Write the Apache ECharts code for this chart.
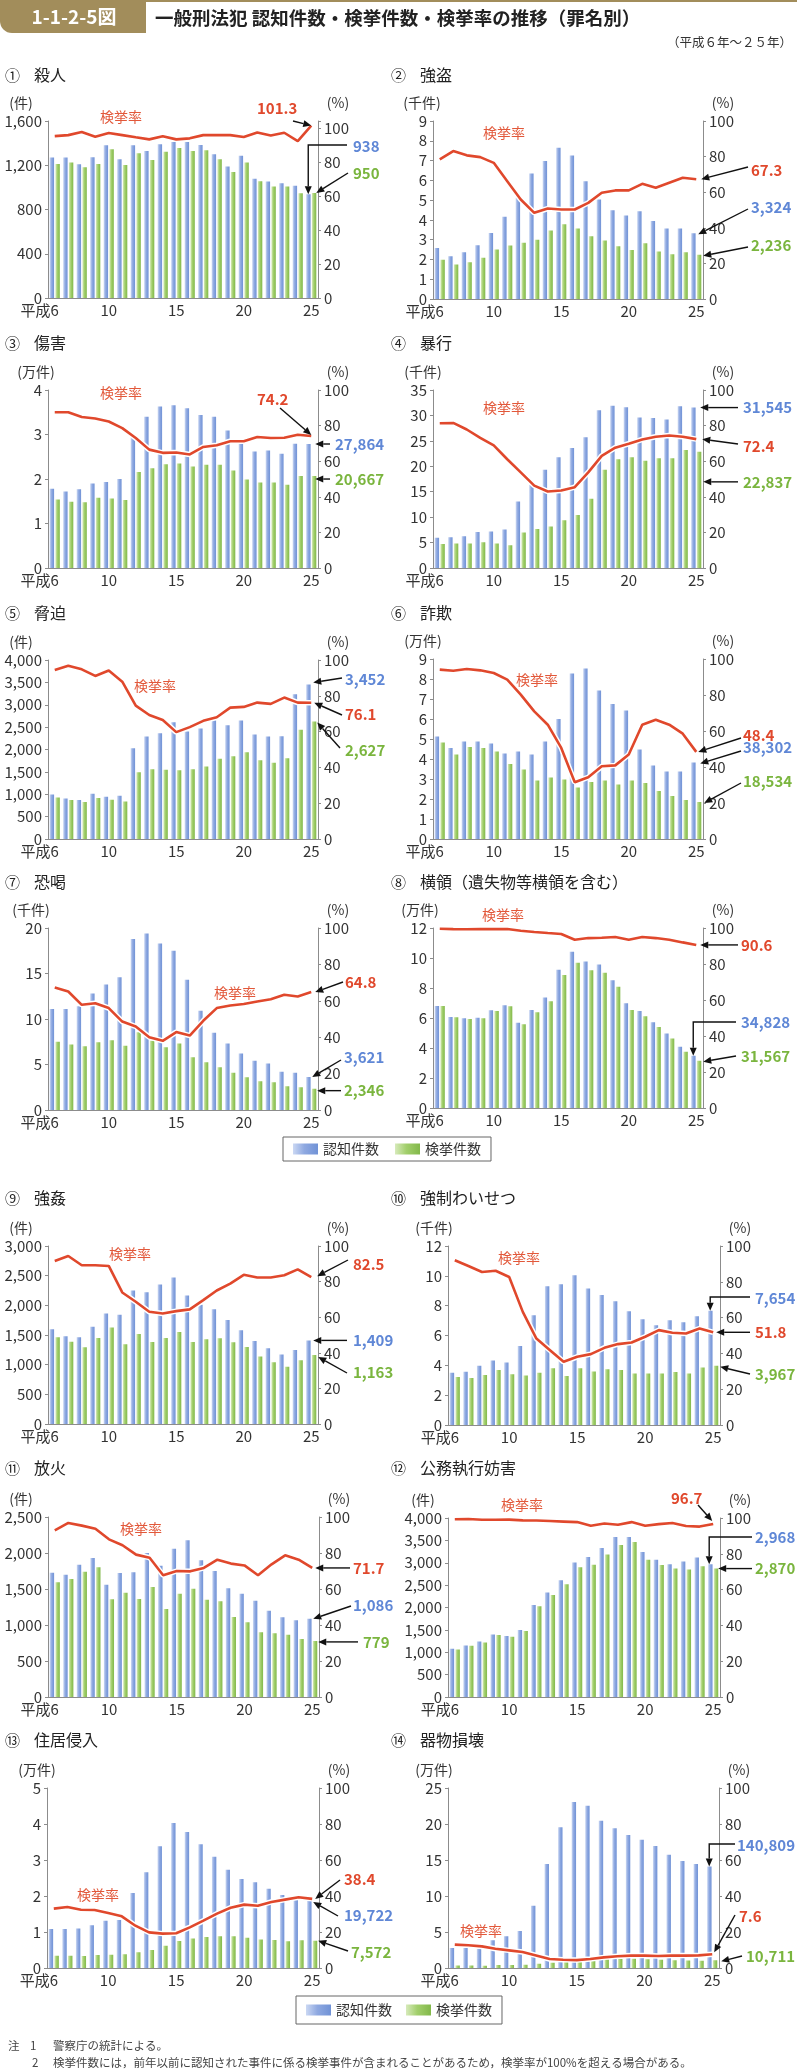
<!DOCTYPE html>
<html><head><meta charset="utf-8">
<script src="https://cdn.jsdelivr.net/npm/echarts@6/dist/echarts.min.js"></script>
<style>html,body{margin:0;padding:0;background:#fff}#c{width:797px;height:2070px}</style>
</head><body><div id="c"></div>
<script>
// ---------- data ----------
const categories = ['平成6','7','8','9','10','11','12','13','14','15','16','17','18','19','20','21','22','23','24','25'];
const xLabelShown = ['平成6','10','15','20','25'];

const panelNos = ['①','②','③','④','⑤','⑥','⑦','⑧','⑨','⑩','⑪','⑫','⑬','⑭'];
const panelNames = ['殺人','強盗','傷害','暴行','脅迫','詐欺','恐喝','横領（遺失物等横領を含む）','強姦','強制わいせつ','放火','公務執行妨害','住居侵入','器物損壊'];
const units = ['(件)','(千件)','(万件)','(千件)','(件)','(万件)','(千件)','(万件)','(件)','(千件)','(件)','(件)','(万件)','(万件)'];
const unitMul = [1,1000,10000,1000,1,10000,1000,10000,1,1000,1,1,10000,10000];
const leftMax = [1600,9,4,35,4000,9,20,12,3000,12,2500,4000,5,25];
const leftInterval = [400,1,1,5,500,1,5,2,500,2,500,500,1,5];
const rightMax = [104,100,100,100,100,100,100,100,100,100,100,100,100,100];

const rec1 = [1269,1269,1209,1272,1380,1254,1380,1329,1389,1410,1410,1383,1299,1188,1287,1077,1053,1038,1014,938];
const clr1 = [1212,1224,1182,1212,1344,1203,1308,1248,1323,1356,1329,1335,1254,1140,1224,1056,1008,1008,947,950];
const rate1 = [95.1,95.7,97.5,94.8,96.9,95.7,94.4,93.2,95.0,93.2,93.8,95.7,95.7,95.7,94.6,97.3,95.5,97.1,92.2,101.3];

const rec2 = [2.58,2.16,2.36,2.72,3.34,4.16,5.12,6.35,6.98,7.65,7.26,5.95,5.03,4.49,4.22,4.44,3.94,3.56,3.56,3.324];
const clr2 = [1.99,1.74,1.86,2.09,2.50,2.70,2.84,3.00,3.46,3.78,3.56,3.17,2.96,2.67,2.48,2.82,2.40,2.26,2.36,2.236];
const rate2 = [78.4,83.1,80.7,79.7,76.5,66.2,55.9,48.4,50.8,50.3,50.3,54.0,59.7,61.0,61.0,64.7,62.5,65.3,68.1,67.3];

const rec3 = [1.78,1.72,1.77,1.90,1.93,2.00,3.00,3.40,3.63,3.66,3.59,3.44,3.40,3.09,2.79,2.62,2.64,2.57,2.79,2.7864];
const clr3 = [1.54,1.49,1.48,1.58,1.56,1.53,2.16,2.24,2.33,2.35,2.28,2.32,2.32,2.19,1.99,1.92,1.92,1.87,2.07,2.0667];
const rate3 = [87.5,87.5,84.8,84.0,82.3,78.6,73.0,66.5,64.7,64.9,63.8,68.0,69.0,71.2,71.2,73.6,73.0,73.2,74.9,74.2];

const rec4 = [5.96,6.03,6.22,7.06,7.19,7.58,13.1,16.3,19.3,21.8,23.6,25.7,31.0,31.9,31.6,29.6,29.5,29.2,31.8,31.545];
const clr4 = [4.73,4.80,4.80,5.06,4.80,4.47,7.00,7.65,8.17,9.40,10.4,13.6,19.3,21.4,21.8,21.1,21.6,21.6,23.2,22.837];
const rate4 = [81.3,81.5,77.8,73.1,68.9,61.1,53.7,46.3,43.0,43.5,45.4,53.7,63.0,67.6,69.8,72.2,73.7,74.4,73.7,72.4];

const rec5 = [996,907,870,1011,944,967,2030,2290,2364,2610,2401,2468,2654,2543,2647,2335,2290,2297,3234,3452];
const clr5 = [929,870,825,914,877,840,1494,1561,1546,1539,1561,1621,1792,1851,1941,1762,1703,1807,2439,2627];
const rate5 = [94.4,96.8,94.8,91.1,94.1,87.9,74.5,69.3,66.5,59.7,62.5,66.0,68.0,73.4,73.8,76.2,75.5,79.0,76.2,76.1];

const rec6 = [5.13,4.55,4.88,4.88,4.77,4.27,4.37,4.23,4.88,6.00,8.27,8.53,7.43,6.75,6.42,4.47,3.68,3.38,3.38,3.8302];
const clr6 = [4.83,4.23,4.60,4.55,4.37,3.75,3.47,2.93,3.08,2.97,2.58,2.85,2.93,2.73,2.93,2.80,2.40,2.15,1.95,1.8534];
const rate6 = [94.1,93.5,94.4,93.7,92.2,88.5,80.2,70.9,63.5,50.6,31.5,34.3,40.4,40.9,46.9,63.5,66.3,63.5,58.5,48.4];

const rec7 = [11.1,11.1,11.4,12.8,13.8,14.6,18.8,19.4,18.3,17.5,14.3,10.9,8.5,7.3,6.2,5.4,5.1,4.2,4.1,3.621];
const clr7 = [7.50,7.20,7.00,7.45,7.67,7.05,8.55,7.60,6.90,7.30,5.80,5.25,4.70,4.10,3.60,3.16,3.05,2.60,2.50,2.346];
const rate7 = [67.3,65.1,57.8,58.7,56.0,48.6,45.9,40.0,38.0,42.8,40.9,49.0,56.0,57.4,58.2,59.6,60.9,63.3,62.4,64.8];

const rec8 = [6.80,6.07,5.98,6.02,6.51,6.85,5.69,6.54,7.36,9.21,10.42,9.77,9.57,8.52,6.98,6.47,5.71,4.97,4.08,3.4828];
const clr8 = [6.80,6.05,5.93,5.98,6.47,6.78,5.58,6.38,7.12,8.86,9.68,9.19,9.01,8.08,6.54,6.11,5.40,4.64,3.75,3.1567];
const rate8 = [99.6,99.4,99.3,99.4,99.4,99.4,98.5,97.8,97.2,96.7,93.5,94.4,94.6,95.0,93.5,95.0,94.4,93.5,92.0,90.6];

const rec9 = [1595,1477,1461,1640,1864,1841,2250,2222,2350,2468,2166,2009,1936,1752,1578,1399,1276,1170,1248,1409];
const clr9 = [1461,1388,1293,1449,1628,1343,1517,1382,1449,1550,1382,1427,1444,1377,1298,1136,1041,963,1074,1163];
const rate9 = [91.6,94.4,89.2,89.2,88.8,73.9,68.7,63.1,62.1,63.4,64.4,69.6,75.0,78.9,83.8,82.3,82.3,83.6,86.9,82.5];

const rec10 = [3.50,3.57,3.97,4.33,4.19,5.29,7.36,9.30,9.44,10.04,9.15,8.72,8.30,7.63,7.09,6.69,7.03,6.89,7.29,7.654];
const clr10 = [3.21,3.15,3.35,3.68,3.41,3.32,3.50,3.81,3.28,3.81,3.59,3.73,3.68,3.46,3.46,3.46,3.55,3.46,3.86,3.967];
const rate10 = [92.0,88.8,85.5,86.2,82.7,63.2,48.3,41.8,35.3,38.1,39.6,43.1,45.2,46.1,49.3,53.0,51.5,51.1,53.9,51.8];

const rec11 = [1727,1699,1838,1931,1560,1722,1731,2000,1824,2060,2176,1898,1750,1509,1435,1338,1199,1106,1065,1086];
const clr11 = [1593,1639,1741,1801,1356,1449,1361,1528,1222,1435,1505,1352,1329,1111,1037,898,884,866,806,779];
const rate11 = [92.6,96.7,95.2,93.5,87.6,84.3,79.1,77.4,67.6,70.0,69.8,71.7,76.3,74.1,73.1,67.6,73.7,78.7,76.3,71.7];

const rec12 = [1077,1152,1241,1399,1361,1496,2057,2334,2610,3007,3126,3328,3575,3575,3239,3066,2969,3029,3119,2968];
const clr12 = [1062,1144,1219,1384,1346,1473,2027,2281,2521,2902,2954,3186,3396,3463,3066,2947,2872,2850,2924,2870];
const rate12 = [99.3,99.4,99.0,99.0,99.1,98.7,98.6,98.3,98.0,97.7,95.7,96.9,96.2,97.7,95.7,96.6,97.2,95.5,95.2,96.7];

const rec13 = [1.08,1.08,1.10,1.19,1.31,1.33,2.08,2.66,3.38,4.03,3.78,3.44,3.09,2.73,2.47,2.38,2.20,2.03,1.97,1.9722];
const clr13 = [0.34,0.34,0.33,0.36,0.37,0.38,0.44,0.50,0.62,0.75,0.82,0.86,0.88,0.88,0.84,0.79,0.78,0.74,0.77,0.7572];
const rate13 = [33.0,33.9,32.4,32.2,30.6,28.7,23.5,19.8,19.1,19.3,22.6,26.3,30.2,33.5,35.2,34.6,36.7,38.0,39.3,38.4];

const rec14 = [2.78,2.78,2.69,3.84,4.40,5.14,8.66,14.44,19.54,23.06,22.55,20.46,19.40,18.47,17.82,16.94,15.74,14.86,14.44,14.0809];
const clr14 = [0.36,0.35,0.32,0.41,0.43,0.46,0.60,0.72,0.90,1.01,1.13,1.21,1.26,1.27,1.23,1.13,1.09,1.03,1.01,1.0711];
const rate14 = [13.0,12.6,12.0,10.7,9.8,8.9,7.0,5.0,4.6,4.4,5.0,5.9,6.5,6.9,6.9,6.7,6.9,6.9,7.0,7.6];

const recs = [rec1,rec2,rec3,rec4,rec5,rec6,rec7,rec8,rec9,rec10,rec11,rec12,rec13,rec14];
const clrs = [clr1,clr2,clr3,clr4,clr5,clr6,clr7,clr8,clr9,clr10,clr11,clr12,clr13,clr14];
const rates = [rate1,rate2,rate3,rate4,rate5,rate6,rate7,rate8,rate9,rate10,rate11,rate12,rate13,rate14];

// ---------- layout ----------
const FONT = "'Noto Sans CJK JP','Noto Sans',sans-serif";
const AXIS = '#8c8c8c', TXT = '#333';
const RED = '#e0482c', BLUE = '#5f87d6', GREEN = '#7ab53e';
const grids = [
 {left:48,top:121,width:270,height:177},{left:433,top:121,width:270,height:178},
 {left:48,top:390,width:270,height:178},{left:433,top:390,width:270,height:178},
 {left:48,top:660,width:270,height:179},{left:433,top:659,width:270,height:180},
 {left:48,top:928,width:270,height:182},{left:433,top:928,width:270,height:180},
 {left:48,top:1246,width:270,height:178},{left:448,top:1246,width:272,height:179},
 {left:48,top:1517,width:271,height:180},{left:448,top:1518,width:272,height:179},
 {left:47,top:1788,width:272,height:180},{left:448,top:1788,width:271,height:180}
];
const titleY = [75,75,343,343,613,613,882,882,1198,1198,1468,1468,1740,1740];
const unitX = [21,422,36,423,21,423,31,420,21,434,21,423,37,434];
const rateLabelPos = [[121,117],[504,133],[121,393],[504,408],[155,686],[537,680],[235,993],[503,915],[130,1254],[519,1258],[141,1529],[522,1505],[98,1895],[481,1931]];
const ann = [
 [{s:'rate',lx:257,ly:108,fx:293,fy:121,dx:0,dy:0},{s:'blue',lx:353,ly:146,fx:347,fy:145,dx:-3,dy:0,el:1},{s:'green',lx:353,ly:173,fx:348,fy:173,dx:5,dy:0}],
 [{s:'rate',lx:751,ly:170,fx:748,fy:167,dx:5,dy:0},{s:'blue',lx:751,ly:207,fx:748,fy:209,dx:2,dy:1},{s:'green',lx:751,ly:245,fx:748,fy:247,dx:7,dy:1}],
 [{s:'rate',lx:257,ly:399,fx:280,fy:408,dx:0,dy:-1},{s:'blue',lx:335,ly:null,fx:330,fy:null,dx:4,dy:0},{s:'green',lx:335,ly:null,fx:330,fy:null,dx:4,dy:3}],
 [{s:'blue',lx:743,ly:null,fx:738,fy:null,dx:4,dy:0},{s:'rate',lx:743,ly:446,fx:738,fy:444,dx:6,dy:0},{s:'green',lx:743,ly:null,fx:738,fy:null,dx:7,dy:30}],
 [{s:'blue',lx:345,ly:679,fx:342,fy:678,dx:2,dy:-2},{s:'rate',lx:345,ly:714,fx:342,fy:715,dx:3,dy:0},{s:'green',lx:345,ly:750,fx:340,fy:748,dx:6,dy:1}],
 [{s:'rate',lx:743,ly:735,fx:741,fy:738,dx:2,dy:0},{s:'blue',lx:743,ly:747,fx:741,fy:751,dx:4,dy:1},{s:'green',lx:743,ly:781,fx:741,fy:783,dx:8,dy:1}],
 [{s:'rate',lx:345,ly:982,fx:343,fy:982,dx:4,dy:0},{s:'blue',lx:344,ly:1057,fx:341,fy:1060,dx:1,dy:0},{s:'green',lx:344,ly:null,fx:341,fy:null,dx:6,dy:2}],
 [{s:'rate',lx:741,ly:null,fx:738,fy:null,dx:4,dy:0},{s:'blue',lx:741,ly:1022,fx:736,fy:1022,dx:-3,dy:0,el:1},{s:'green',lx:741,ly:1056,fx:736,fy:1056,dx:7,dy:1}],
 [{s:'rate',lx:353,ly:1264,fx:348,fy:1260,dx:6,dy:-1},{s:'blue',lx:353,ly:null,fx:347,fy:null,dx:2,dy:0},{s:'green',lx:353,ly:1372,fx:347,fy:1373,dx:7,dy:2}],
 [{s:'blue',lx:755,ly:1298,fx:750,fy:1297,dx:-3,dy:0,el:1},{s:'rate',lx:755,ly:null,fx:750,fy:null,dx:3,dy:0},{s:'green',lx:755,ly:1374,fx:750,fy:1374,dx:7,dy:1}],
 [{s:'rate',lx:353,ly:null,fx:350,fy:null,dx:3,dy:0},{s:'blue',lx:353,ly:1605,fx:351,fy:1606,dx:1,dy:0},{s:'green',lx:363,ly:null,fx:358,fy:null,dx:6,dy:1}],
 [{s:'rate',lx:671,ly:1498,fx:698,fy:1505,dx:-1,dy:-3},{s:'blue',lx:755,ly:1537,fx:752,fy:1537,dx:-4,dy:0,el:1},{s:'green',lx:755,ly:null,fx:752,fy:null,dx:5,dy:0}],
 [{s:'rate',lx:344,ly:1879,fx:340,fy:1880,dx:3,dy:0},{s:'blue',lx:344,ly:1915,fx:338,fy:1916,dx:1,dy:5},{s:'green',lx:351,ly:1952,fx:348,fy:1951,dx:6,dy:0}],
 [{s:'blue',lx:737,ly:1845,fx:735,fy:1844,dx:-3,dy:0,el:1},{s:'rate',lx:739,ly:1916,fx:735,fy:1915,dx:2,dy:-2},{s:'green',lx:746,ly:1956,fx:742,fy:1956,dx:9,dy:1}]
];

// ---------- build ----------
const chart = echarts.init(document.getElementById('c'), null, {renderer:'canvas'});
const blueGrad = new echarts.graphic.LinearGradient(0,0,1,0,[{offset:0,color:'#cbd8f3'},{offset:0.45,color:'#8fa9e1'},{offset:1,color:'#7092d6'}]);
const greenGrad = new echarts.graphic.LinearGradient(0,0,1,0,[{offset:0,color:'#d7eabb'},{offset:0.45,color:'#a2cf6c'},{offset:1,color:'#82b84a'}]);
const gridOpt=[], xAxes=[], yAxes=[], series=[];
const lblBase = {fontSize:15, color:TXT, fontFamily:FONT};
for (let i=0;i<14;i++){
  gridOpt.push(Object.assign({containLabel:false}, grids[i]));
  xAxes.push({type:'category', gridIndex:i, data:categories,
    axisLine:{lineStyle:{color:AXIS,width:1}}, axisTick:{show:false},
    axisLabel:Object.assign({}, lblBase, {margin:5,
      interval:(idx)=>xLabelShown.includes(categories[idx]),
      formatter:(v)=> v==='平成6' ? '{p|平成}{n|6}{q| }' : v,
      rich:{p:lblBase, n:lblBase, q:Object.assign({},lblBase,{width:30})}})});
  yAxes.push({type:'value', gridIndex:i, position:'left', min:0, max:leftMax[i], interval:leftInterval[i],
    axisLine:{show:true,lineStyle:{color:AXIS,width:1}}, axisTick:{show:true,length:3,lineStyle:{color:AXIS}},
    splitLine:{show:false},
    axisLabel:Object.assign({}, lblBase, {margin:6, formatter:(v)=>v.toLocaleString('en-US')})});
  yAxes.push({type:'value', gridIndex:i, position:'right', min:0, max:rightMax[i], interval:20,
    axisLine:{show:true,lineStyle:{color:AXIS,width:1}}, axisTick:{show:true,length:3,lineStyle:{color:AXIS}},
    splitLine:{show:false},
    axisLabel:Object.assign({}, lblBase, {margin:6, formatter:(v)=> (v%20===0 ? String(v) : '')})});
  series.push({type:'bar', name:'認知件数', xAxisIndex:i, yAxisIndex:2*i, data:recs[i], barWidth:4.4, barGap:'30%', itemStyle:{color:blueGrad}, silent:true});
  series.push({type:'bar', name:'検挙件数', xAxisIndex:i, yAxisIndex:2*i, data:clrs[i], barWidth:4.4, barGap:'30%', itemStyle:{color:greenGrad}, silent:true});
  series.push({type:'line', name:'halo', xAxisIndex:i, yAxisIndex:2*i+1, data:rates[i], showSymbol:false, lineStyle:{color:'#fff',width:5.5}, z:3, silent:true});
  series.push({type:'line', name:'検挙率', xAxisIndex:i, yAxisIndex:2*i+1, data:rates[i], showSymbol:false, lineStyle:{color:RED,width:2.6}, z:4, silent:true});
}
const legendBase = {data:['認知件数','検挙件数'], orient:'horizontal', itemWidth:25, itemHeight:11, icon:'rect',
  borderColor:'#666', borderWidth:1, selectedMode:false, textStyle:{fontSize:14,color:TXT,fontFamily:FONT}};
chart.setOption({
  animation:false, backgroundColor:'#fff', textStyle:{fontFamily:FONT},
  grid:gridOpt, xAxis:xAxes, yAxis:yAxes, series:series,
  legend:[Object.assign({},legendBase,{left:283,top:1137,padding:[5,10],itemGap:16}),
          Object.assign({},legendBase,{left:296,top:1996,padding:[7,10],itemGap:14})]
});

// ---------- graphics ----------
const G = [];
function txt(x,y,text,opt){
  G.push({type:'text', x:x, y:y, silent:true, z:100, style:Object.assign({text:text, fill:TXT, fontSize:15, fontFamily:FONT,
    align:'left', verticalAlign:'middle', textAlign:'left', textVerticalAlign:'middle'}, opt||{})});
}
function head(x2,y2,ang){
  const L=8,W=3.5, bx=x2-L*Math.cos(ang), by=y2-L*Math.sin(ang);
  G.push({type:'polygon', silent:true, z:101, shape:{points:[[x2,y2],[bx+W*Math.sin(ang),by-W*Math.cos(ang)],[bx-W*Math.sin(ang),by+W*Math.cos(ang)]]}, style:{fill:'#111'}});
  return [bx,by];
}
function arrow(x1,y1,x2,y2){
  const ang=Math.atan2(y2-y1,x2-x1); const b=head(x2,y2,ang);
  G.push({type:'line', silent:true, z:101, shape:{x1:x1,y1:y1,x2:b[0],y2:b[1]}, style:{stroke:'#111',lineWidth:1.4}});
}
function elbow(x1,y1,cx,ty){
  const b=head(cx,ty,Math.PI/2);
  G.push({type:'polyline', silent:true, z:101, shape:{points:[[x1,y1],[cx,y1],[cx,b[1]]]}, style:{stroke:'#111',lineWidth:1.4,fill:null}});
}
const GOLD='#a28d5b';
G.push({type:'rect', silent:true, shape:{x:0,y:0,width:797,height:2}, style:{fill:GOLD}});
G.push({type:'rect', silent:true, shape:{x:0,y:0,width:146,height:33,r:[0,0,0,12]}, style:{fill:GOLD}});
txt(74,17,'1-1-2-5図',{fill:'#fff',fontSize:19,fontWeight:'bold',align:'center',textAlign:'center'});
txt(155,18,'一般刑法犯 認知件数・検挙件数・検挙率の推移（罪名別）',{fill:'#222',fontSize:18.5,fontWeight:'bold'});
txt(792,42,'（平成６年～２５年）',{fontSize:12.5,align:'right',textAlign:'right'});

for (let i=0;i<14;i++){
  const g=grids[i];
  const cx = (i%2===0) ? 5 : 391;
  txt(cx, titleY[i], panelNos[i], {fontSize:15, fill:'#222'});
  txt(cx+29, titleY[i], panelNames[i], {fontSize:16, fill:'#222'});
  txt(unitX[i], g.top-18, units[i], {fontSize:14, align:'center', textAlign:'center'});
  txt(g.left+g.width+20, g.top-18, '(%)', {fontSize:14, align:'center', textAlign:'center'});
  txt(rateLabelPos[i][0], rateLabelPos[i][1], '検挙率', {fontSize:14, fill:'#e2583a', align:'center', textAlign:'center'});
  ann[i].forEach(a=>{
    let si, val, col, label;
    if (a.s==='rate'){ si=4*i+3; val=rates[i][19]; col=RED; label=val.toFixed(1); }
    else if (a.s==='blue'){ si=4*i; val=recs[i][19]; col=BLUE; label=Math.round(val*unitMul[i]).toLocaleString('en-US'); }
    else { si=4*i+1; val=clrs[i][19]; col=GREEN; label=Math.round(val*unitMul[i]).toLocaleString('en-US'); }
    const p = chart.convertToPixel({seriesIndex:si}, [19, val]);
    const tx = p[0]+a.dx, ty = p[1]+a.dy;
    const fy = (a.fy===null) ? ty : a.fy;
    const ly = (a.ly===null) ? ty : a.ly;
    if (a.el) elbow(a.fx, fy, tx, ty); else arrow(a.fx, fy, tx, ty);
    txt(a.lx, ly, label, {fontSize:15, fontWeight:'bold', fill:col});
  });
}
txt(8,2046,'注',{fontSize:11.5,fill:'#444'});
txt(30,2046,'1',{fontSize:11.5,fill:'#444'});
txt(53,2046,'警察庁の統計による。',{fontSize:11.5,fill:'#444'});
txt(32,2063,'2',{fontSize:11.5,fill:'#444'});
txt(53,2063,'検挙件数には，前年以前に認知された事件に係る検挙事件が含まれることがあるため，検挙率が100%を超える場合がある。',{fontSize:11.5,fill:'#444'});

chart.setOption({graphic:{elements:G}});
</script></body></html>
